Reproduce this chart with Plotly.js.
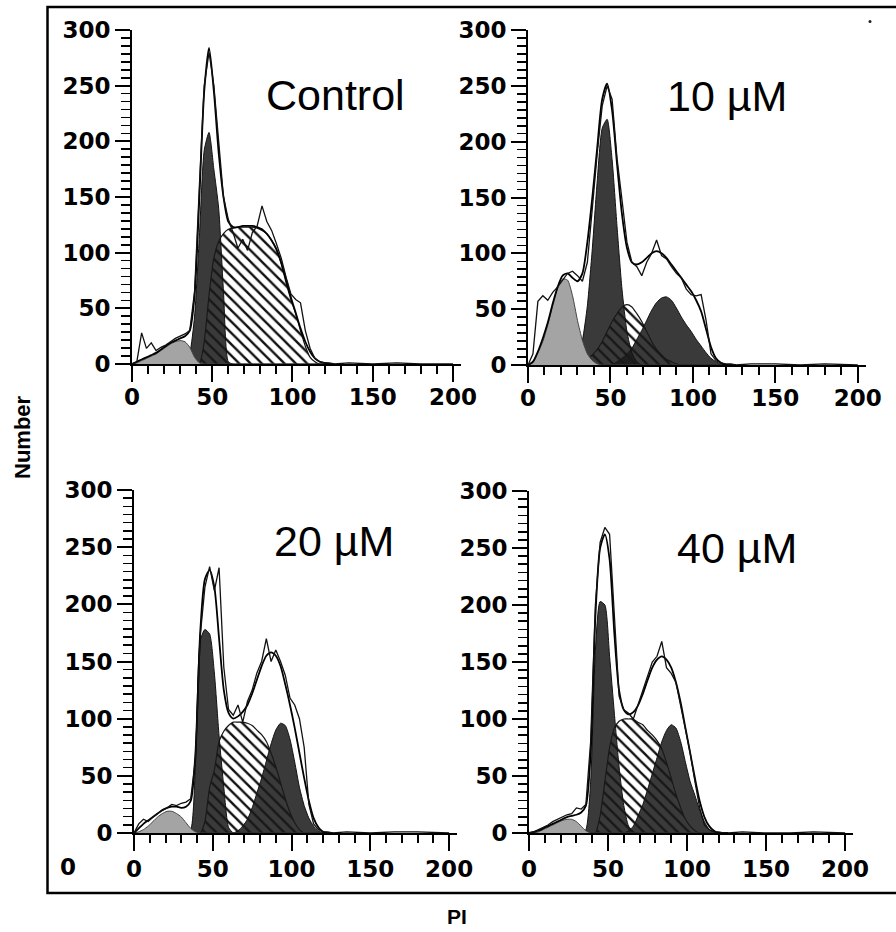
<!DOCTYPE html>
<html><head><meta charset="utf-8">
<script src="https://cdn.plot.ly/plotly-3.0.1.min.js"></script>
<style>html,body{margin:0;padding:0;background:#fff}#chart{width:896px;height:932px}</style>
</head><body><div id="chart"></div>
<script>
// PI channel grid (x values) shared by all series
const PI = [0,3,6,9,12,15,18,21,24,27,
            30,33,36,39,42,45,48,51,54,57,
            60,63,66,69,72,75,78,81,84,87,
            90,93,96,99,102,105,108,111,114,117,
            120,123,126];
const tailPI = [135,150,165,180,200];
const panelNames = ['Control','10 µM','20 µM','40 µM'];

// ---- Control ----
const ctrlRaw = [0,2,28,14,19,12,15,17,20,23,
                 25,27,30,65,160,250,280,250,200,150,
                 130,118,104,112,102,118,124,142,128,120,
                 108,95,78,63,58,55,30,14,5,2,
                 1,1,0];
const ctrlTail = [1,0,1,0,0];
const ctrlFit = [0,2,4,6,8,10,13,16,19,21,
                 23,25,30,62,150,245,284,245,190,150,
                 128,123,123,124,124,124,123,121,117,111,
                 103,91,76,60,46,32,20,11,5,2,
                 1,0,0];
const ctrlSub = [0,1,3,5,7,9,12,15,18,20,
                 21,20,15,6,1,0,0,0,0,0,
                 0,0,0,0,0,0,0,0,0,0,
                 0,0,0,0,0,0,0,0,0,0,
                 0,0,0];
const ctrlG1 = [0,0,0,0,0,0,0,0,0,0,
                0,2,10,43,115,192,208,175,140,65,
                2,0,0,0,0,0,0,0,0,0,
                0,0,0,0,0,0,0,0,0,0,
                0,0,0];
const ctrlS = [0,0,0,0,0,0,0,0,0,0,
               0,0,0,0,0,20,62,95,110,117,
               121,122,123,123,123,123,122,120,117,111,
               103,90,73,58,45,30,16,6,2,0,
               0,0,0];

// ---- 10 µM ----
const r10Raw = [0,10,57,62,58,65,70,76,82,84,
                80,75,92,140,190,232,250,238,185,148,
                110,92,88,80,92,100,112,98,95,88,
                82,78,68,63,62,63,40,10,4,2,
                1,1,0];
const r10Tail = [1,1,0,1,0];
const r10Fit = [0,3,12,24,38,55,70,80,82,78,
                75,82,110,150,195,238,252,228,180,135,
                105,92,90,92,96,100,102,100,96,90,
                84,78,72,66,58,48,32,16,6,2,
                0,0,0];
const r10Sub = [0,2,11,21,36,53,69,77,76,62,
                40,22,10,4,1,0,0,0,0,0,
                0,0,0,0,0,0,0,0,0,0,
                0,0,0,0,0,0,0,0,0,0,
                0,0,0];
const r10G1 = [0,0,0,0,0,0,0,0,0,0,
               7,22,53,104,165,212,220,184,124,68,
               30,11,3,0,0,0,0,0,0,0,
               0,0,0,0,0,0,0,0,0,0,
               0,0,0];
const r10S = [0,0,0,0,0,0,0,0,0,0,
              1,3,5,9,14,21,30,39,46,52,
              54,52,46,39,30,21,14,9,5,3,
              1,0,0,0,0,0,0,0,0,0,
              0,0,0];
const r10G2 = [0,0,0,0,0,0,0,0,0,0,
               0,0,0,0,0,0,0,0,3,6,
               10,15,23,31,40,49,56,60,61,58,
               51,43,36,30,23,17,11,6,3,1,
               0,0,0];

// ---- 20 µM ----
const r20Raw = [0,8,12,10,14,17,20,22,25,24,
                26,27,30,65,172,215,233,212,232,145,
                108,103,112,97,115,125,140,150,170,150,
                160,150,138,118,112,100,75,25,8,3,
                1,1,0];
const r20Tail = [1,0,1,1,0];
const r20Fit = [0,4,8,11,14,17,20,22,23,23,
                22,23,28,70,175,222,230,215,170,125,
                105,100,102,106,112,122,134,146,155,158,
                155,146,130,112,92,70,48,28,13,5,
                1,0,0];
const r20Sub = [0,1,3,6,10,14,17,19,19,17,
                14,9,4,1,0,0,0,0,0,0,
                0,0,0,0,0,0,0,0,0,0,
                0,0,0,0,0,0,0,0,0,0,
                0,0,0];
const r20G1 = [0,0,0,0,0,0,0,0,0,0,
               0,1,3,60,168,178,174,140,85,40,
               5,0,0,0,0,0,0,0,0,0,
               0,0,0,0,0,0,0,0,0,0,
               0,0,0];
const r20S = [0,0,0,0,0,0,0,0,0,0,
              0,0,0,0,0,10,40,55,80,89,
              94,97,97,97,96,94,90,86,80,70,
              58,44,30,18,9,3,0,0,0,0,
              0,0,0];
const r20G2 = [0,0,0,0,0,0,0,0,0,0,
               0,0,0,0,0,0,0,0,0,0,
               0,0,2,6,12,22,35,48,63,78,
               90,96,94,82,62,40,24,13,6,2,
               0,0,0];

// ---- 40 µM ----
const r40Raw = [0,1,3,5,7,10,12,14,16,17,
                22,21,25,80,200,255,268,262,190,120,
                108,105,100,112,125,138,150,155,168,145,
                140,132,112,92,70,45,22,7,3,1,
                1,0,0];
const r40Tail = [1,0,0,1,0];
const r40Fit = [0,1,2,4,6,8,10,12,14,15,
                16,18,24,70,190,250,262,240,175,125,
                108,104,106,112,122,134,145,152,155,152,
                145,132,114,92,70,48,28,14,6,2,
                0,0,0];
const r40Sub = [0,0,1,3,5,7,9,11,12,12,
                10,6,2,0,0,0,0,0,0,0,
                0,0,0,0,0,0,0,0,0,0,
                0,0,0,0,0,0,0,0,0,0,
                0,0,0];
const r40G1 = [0,0,0,0,0,0,0,0,0,0,
               0,0,3,45,160,203,200,155,105,58,
               24,6,1,0,0,0,0,0,0,0,
               0,0,0,0,0,0,0,0,0,0,
               0,0,0];
const r40S = [0,0,0,0,0,0,0,0,0,0,
              0,0,0,0,0,15,45,75,92,98,
              100,100,100,97,95,90,86,81,74,62,
              48,34,22,12,6,2,0,0,0,0,
              0,0,0];
const r40G2 = [0,0,0,0,0,0,0,0,0,0,
               0,0,0,0,0,0,0,0,0,0,
               0,2,6,15,25,38,52,66,80,90,
               95,92,80,62,45,33,20,10,3,1,
               0,0,0];

// ---- layout geometry (pixels) ----
const W = 896, H = 932;
const panels = [
  {name:panelNames[0], raw:ctrlRaw, tail:ctrlTail, fit:ctrlFit, sub:ctrlSub, g1:ctrlG1, s:ctrlS, g2:null,
   px:[132,461], py:[364,30], lab:[335,95], stand:-5},
  {name:panelNames[1], raw:r10Raw, tail:r10Tail, fit:r10Fit, sub:r10Sub, g1:r10G1, s:r10S, g2:r10G2,
   px:[528,866], py:[365,30], lab:[727,96], stand:-5},
  {name:panelNames[2], raw:r20Raw, tail:r20Tail, fit:r20Fit, sub:r20Sub, g1:r20G1, s:r20S, g2:r20G2,
   px:[134,457], py:[833,490], lab:[334,541], stand:-2},
  {name:panelNames[3], raw:r40Raw, tail:r40Tail, fit:r40Fit, sub:r40Sub, g1:r40G1, s:r40S, g2:r40G2,
   px:[529,853], py:[833,491], lab:[737,548], stand:-2}
];

const tickFont = {family:'DejaVu Sans', size:23, color:'#000', weight:'bold'};
const darkFill = 'rgba(26,26,26,0.86)';
const traces = [];
const layout = {
  width:W, height:H, margin:{l:0,r:0,t:0,b:0}, showlegend:false,
  paper_bgcolor:'#fff', plot_bgcolor:'rgba(0,0,0,0)',
  annotations:[], shapes:[]
};

panels.forEach((p, i) => {
  const n = i === 0 ? '' : String(i + 1);
  const xa = 'x' + n, ya = 'y' + n;
  const common = {xaxis:xa, yaxis:ya, mode:'lines', hoverinfo:'skip', cliponaxis:true};
  traces.push(Object.assign({}, common, {x:PI, y:p.s, fill:'tozeroy', fillcolor:'#fff',
    fillpattern:{shape:'\\', bgcolor:'#fff', fgcolor:'#111', size:8, solidity:0.3},
    line:{color:'#111', width:1.2, shape:'spline', smoothing:0.6}}));
  if (p.g2) traces.push(Object.assign({}, common, {x:PI, y:p.g2, fill:'tozeroy', fillcolor:darkFill,
    line:{color:'#111', width:1, shape:'spline', smoothing:0.6}}));
  traces.push(Object.assign({}, common, {x:PI, y:p.g1, fill:'tozeroy', fillcolor:darkFill,
    line:{color:'#111', width:1, shape:'spline', smoothing:0.6}}));
  traces.push(Object.assign({}, common, {x:PI, y:p.sub, fill:'tozeroy', fillcolor:'#a4a4a4',
    line:{color:'#444', width:1, shape:'spline', smoothing:0.6}}));
  traces.push(Object.assign({}, common, {x:PI, y:p.fit,
    line:{color:'#000', width:1.8, shape:'spline', smoothing:0.7}}));
  traces.push(Object.assign({}, common, {x:PI.concat(tailPI), y:p.raw.concat(p.tail),
    line:{color:'#111', width:1.3}}));

  layout['xaxis' + n] = {
    domain:[p.px[0]/W, p.px[1]/W], range:[0,205], anchor:ya,
    showline:true, linecolor:'#000', linewidth:2, mirror:false,
    ticks:'outside', ticklen:16, tickwidth:2, tickcolor:'#000',
    tickmode:'linear', tick0:0, dtick:50, tickfont:tickFont, ticklabelstandoff:p.stand,
    minor:{tickmode:'linear', tick0:0, dtick:10, ticks:'outside', ticklen:8, tickwidth:2, tickcolor:'#000', showgrid:false},
    showgrid:false, zeroline:false, fixedrange:true
  };
  layout['yaxis' + n] = {
    domain:[1 - p.py[0]/H, 1 - p.py[1]/H], range:[0,300], anchor:xa,
    showline:true, linecolor:'#000', linewidth:2,
    ticks:'outside', ticklen:15, tickwidth:2, tickcolor:'#000',
    tickmode:'linear', tick0:0, dtick:50, tickfont:tickFont,
    minor:{tickmode:'linear', tick0:0, dtick:50/7, ticks:'outside', ticklen:9, tickwidth:1.6, tickcolor:'#000', showgrid:false},
    showgrid:false, zeroline:false, fixedrange:true
  };
  layout.annotations.push({text:p.name, xref:'paper', yref:'paper', x:p.lab[0]/W, y:1 - p.lab[1]/H,
    xanchor:'center', yanchor:'middle', showarrow:false,
    font:{family:'Liberation Sans, Arial', size:43, color:'#000'}});
});

layout.annotations.push({text:'Number', xref:'paper', yref:'paper', x:22/W, y:1 - 437/H, textangle:-90,
  xanchor:'center', yanchor:'middle', showarrow:false,
  font:{family:'Liberation Sans, Arial', size:22, color:'#000', weight:'bold'}});
layout.annotations.push({text:'PI', xref:'paper', yref:'paper', x:457/W, y:1 - 916/H,
  xanchor:'center', yanchor:'middle', showarrow:false,
  font:{family:'Liberation Sans, Arial', size:21, color:'#000', weight:'bold'}});
layout.annotations.push({text:'0', xref:'paper', yref:'paper', x:68/W, y:1 - 867/H,
  xanchor:'center', yanchor:'middle', showarrow:false, font:tickFont});

layout.shapes.push({type:'rect', xref:'paper', yref:'paper', x0:47.5/W, x1:1.02, y0:1 - 893/H, y1:1 - 7/H,
  line:{color:'#000', width:2.5}, fillcolor:'rgba(0,0,0,0)'});
layout.shapes.push({type:'circle', xref:'paper', yref:'paper', x0:868.5/W, x1:871.5/W, y0:1 - 23/H, y1:1 - 20/H,
  line:{width:0}, fillcolor:'#222'});

Plotly.newPlot('chart', traces, layout, {staticPlot:true, displayModeBar:false});
</script>
</body></html>
